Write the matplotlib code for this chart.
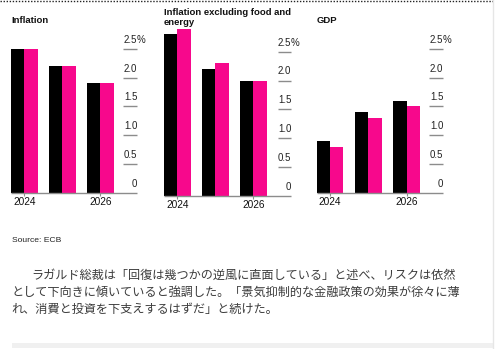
import matplotlib
matplotlib.use("Agg")
import matplotlib.pyplot as plt
from matplotlib.lines import Line2D
from matplotlib.patches import Rectangle

# ECB projections: June (black) vs September (pink)
years = ['2024', '2025', '2026']
shown_years = ['2024', '2026']
inflation_june = [2.5, 2.2, 1.9]
inflation_sept = [2.5, 2.2, 1.9]
core_june = [2.8, 2.2, 2.0]
core_sept = [2.9, 2.3, 2.0]
gdp_june = [0.9, 1.4, 1.6]
gdp_sept = [0.8, 1.3, 1.5]
y_ticks = [0, 0.5, 1.0, 1.5, 2.0, 2.5]
y_tick_labels = ['0', '0.5', '1.0', '1.5', '2.0', '2.5']

titles = ['Inflation', 'Inflation excluding food and\nenergy', 'GDP']
source = 'Source: ECB'
paragraph = [
    'ラガルド総裁は「回復は幾つかの逆風に直面している」と述べ、リスクは依然',
    'として下向きに傾いていると強調した。「景気抑制的な金融政策の効果が徐々に薄',
    'れ、消費と投資を下支えするはずだ」と続けた。',
]

W, H = 495, 349
BLACK = '#000000'
PINK = '#f7088c'
GRID = '#8c8c8c'
LATIN = ['Liberation Sans', 'DejaVu Sans']
CJK = ['Noto Sans CJK JP', 'DejaVu Sans']

# pixel layout of each panel: bar left, first group centre, group step,
# grid start, grid end, baseline y, 2.5 line y
layout = [
    (11.0, 24.2, 38.0, 123.3, 137.3, 192.7, 49.0),
    (164.0, 177.3, 38.0, 278.3, 291.3, 196.0, 51.7),
    (316.7, 330.0, 38.3, 429.0, 443.3, 192.7, 49.0),
]
title_pos = [(11, 20.7), (164, 17.3), (316.7, 20.7)]

fig = plt.figure(figsize=(W / 100, H / 100), dpi=100)
fig.patch.set_facecolor('white')


def fx(x):
    return x / W


def fy(y):
    return 1 - y / H


series = [(inflation_june, inflation_sept), (core_june, core_sept),
          (gdp_june, gdp_sept)]

for i, (june, sept) in enumerate(series):
    left_px, c0, step, g0, g1, base, top = layout[i]
    ax = fig.add_axes([fx(left_px), fy(base), (g1 - left_px) / W,
                       (base - top) / H])
    xl = (left_px - c0) / step
    xr = (g1 - c0) / step
    gs = (g0 - c0) / step
    w = 13.3 / step
    xs = list(range(len(years)))
    ax.bar([x - w / 2 for x in xs], june, width=w, color=BLACK,
           clip_on=False, zorder=2)
    ax.bar([x + w / 2 for x in xs], sept, width=w, color=PINK,
           clip_on=False, zorder=2)
    ax.set_xlim(xl, xr)
    ax.set_ylim(0, 2.5)
    ax.set_axis_off()

    # right-hand scale: short rules with labels sitting above
    for v, lab in zip(y_ticks, y_tick_labels):
        if v == 0:
            ax.hlines(0, xl, xr, color=GRID, lw=1.0, clip_on=False, zorder=3)
        else:
            ax.hlines(v, gs, xr, color=GRID, lw=1.0, clip_on=False)
        ax.annotate(lab, (xr, v), xytext=(0, 6.6), textcoords='offset points',
                    ha='right', va='center', fontsize=7, family=LATIN,
                    color='#222222', annotation_clip=False)
        if v == y_ticks[-1]:
            ax.annotate('%', (xr, v), xytext=(-0.2, 6.6),
                        textcoords='offset points', ha='left', va='center',
                        fontsize=7, family=LATIN, color='#222222',
                        annotation_clip=False)

    for yr in shown_years:
        x = years.index(yr)
        ax.vlines(x, -3.2 / (base - top) * 2.5, 0, color=GRID, lw=0.8,
                  clip_on=False)
        ax.annotate(yr, (x, 0), xytext=(0, -6.7), textcoords='offset points',
                    ha='center', va='center', fontsize=7.3, family=LATIN,
                    color='#111111', annotation_clip=False)

    tx, ty = title_pos[i]
    fig.text(fx(tx), fy(ty), titles[i], ha='left', va='center',
             fontsize=6.8, fontweight='bold', family=LATIN,
             linespacing=1.15, color='#111111')

fig.text(fx(11.5), fy(240), source, ha='left', va='center', fontsize=6.1,
         family=LATIN, color='#222222')

para_x = [31.7, 11.7, 11.7]
para_y = [275.0, 292.5, 309.0]
for x, y, line in zip(para_x, para_y, paragraph):
    fig.text(fx(x), fy(y), line, ha='left', va='center', fontsize=8.75,
             family=CJK, color='#3c3c3c')

# page frame bits from the screenshot
fig.add_artist(Line2D([0, 1], [fy(1.2), fy(1.2)], color='#222222', lw=1.0,
                      linestyle=(0, (1, 1.2))))
fig.add_artist(Line2D([fx(492.7), fx(492.7)], [0, 1], color='#e6e6e6',
                      lw=1.0))
fig.add_artist(Rectangle((fx(11.7), fy(348.3)), (492.7 - 11.7) / W, 5 / H,
                         transform=fig.transFigure, color='#f0f0f0', lw=0))

fig.savefig('out.png', dpi=100, facecolor='white')
